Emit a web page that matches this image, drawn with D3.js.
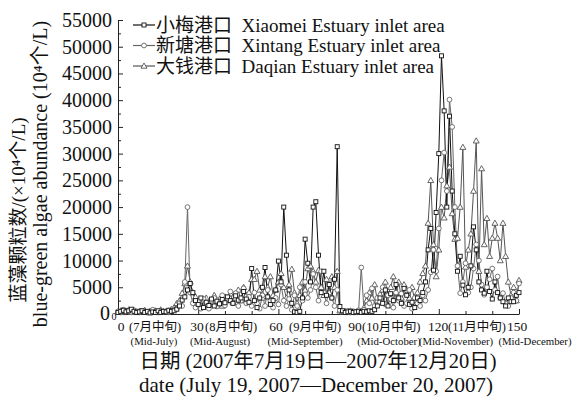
<!DOCTYPE html>
<html><head><meta charset="utf-8">
<script src="https://cdn.jsdelivr.net/npm/d3@7"></script>
<style>
html,body{margin:0;padding:0;background:#fff;}
svg text{font-family:"Liberation Serif","Noto Sans CJK SC",serif;fill:#111;}
</style></head>
<body><svg id="c" width="585" height="403"></svg>
<script>
// ---- data ----
const days = d3.range(0, 151);
const xiaomei = [300,500,700,400,600,900,500,300,400,600,300,500,200,400,300,600,300,500,400,700,500,600,900,
1500,2600,3200,4500,5700,4000,2500,1800,3000,1200,2200,1600,2800,1500,2400,1900,2700,2100,3200,2500,2000,3400,
2600,3000,4200,2800,2200,8500,2500,1200,3000,5000,8700,3200,1800,2500,4500,9900,6000,20000,11000,4500,2000,
400,300,500,3000,14000,9500,6000,20000,21000,11000,4000,8000,3500,5500,3000,6500,31300,1400,600,300,400,500,
300,400,500,300,500,400,600,500,800,1500,3000,2000,4500,1500,3800,2500,5500,3000,2000,4800,3500,1800,2200,
1200,3000,2500,4000,6000,12000,16000,8200,19000,30000,48300,38000,20000,37000,23000,15000,8000,10800,5400,
3600,5000,9000,16300,12000,6000,4500,3900,8000,4200,2800,6000,4000,3000,2300,1500,3000,2300,2300,3500,4000];
const xintang = [500,300,800,600,400,300,700,500,300,600,400,300,500,800,400,300,600,400,500,300,600,800,1000,
2000,1500,6000,20000,4000,2000,1200,2500,1000,2800,1800,1000,2500,3000,1400,2200,3500,1600,2800,4200,2000,3900,
1500,2500,4800,2000,3200,1500,4000,2000,1000,3500,1500,4500,2500,1200,3000,1800,5500,2500,1500,2800,800,
3500,1500,5000,2500,6000,3000,4500,7500,5000,2500,8000,4000,2000,5500,3000,1500,4500,700,500,400,600,300,
500,400,700,8700,800,3500,2000,4800,1500,3000,2200,5000,1800,3500,2800,1200,4000,2500,3800,1500,2000,4500,
1000,3000,2000,1500,3500,2500,4500,7800,12000,8000,16000,25000,30200,23000,40100,35000,20000,9000,3900,6000,
9500,4000,5000,8500,13000,10000,5500,3600,5000,6500,8500,4500,7000,3000,3900,2000,1500,3000,4000,2500,5700];
const daqian = [400,600,300,500,800,400,600,300,500,400,700,300,500,400,600,300,800,500,400,600,900,1200,2000,
2500,3900,5700,9000,6000,4000,3200,2000,1500,2500,3000,1800,2200,3500,2000,2800,1500,3200,2500,3800,2200,3000,
4500,2500,5000,3500,4000,6500,6500,8000,4500,3000,7000,5000,7000,3500,4500,6000,7600,5000,3000,5500,8400,
4000,2000,3500,6000,4500,8500,9000,8000,6000,8200,5000,3500,6500,4000,7000,5000,8000,600,400,500,300,600,
400,300,500,400,1200,2500,4000,3000,5500,2500,3700,4500,6000,3500,5000,7000,4000,6000,3000,5500,4500,3000,
5000,2500,4000,6000,7600,9000,17000,25000,13000,7000,12000,20000,18000,24000,27500,18800,14000,14200,20000,
31200,8800,12000,15000,23000,32400,8000,27200,13000,17900,10800,14200,17000,14200,10000,17000,10800,6000,3500,
5000,2500,6300];
const seriesNames = ["小梅港口  Xiaomei Estuary inlet area","新塘港口  Xintang Estuary inlet area","大钱港口  Daqian Estuary inlet area"];
const yTicks = [0,5000,10000,15000,20000,25000,30000,35000,40000,45000,50000,55000];
const xTicks = [0,30,60,90,120,150];
const xLabelsCN = ["(7月中旬)","(8月中旬)","(9月中旬)","(10月中旬)","(11月中旬)"];
const xLabelsEN = ["(Mid-July)","(Mid-August)","(Mid-September)","(Mid-October)","(Mid-November)","(Mid-December)"];

// ---- chart ----
const svg = d3.select("#c");
const x = d3.scaleLinear().domain([0,150]).range([118,519]);
const y = d3.scaleLinear().domain([0,55000]).range([314,20]);

// axes
const gy = svg.append("g").attr("transform","translate(118,0)");
gy.call(d3.axisLeft(y).tickValues(d3.range(0,55001,2500)).tickSize(-3).tickSizeOuter(0).tickFormat(""));
gy.call(g=>g.selectAll(".tick").filter(d=>d%5000===0).select("line").attr("x2",5));
gy.selectAll("path,line").attr("stroke","#222");
yTicks.forEach(v=>{ if(v===0) return;
  svg.append("text").attr("x",112).attr("y",y(v)).attr("dy","0.35em").attr("text-anchor","end")
    .attr("font-size",20).text(v);
});
svg.append("text").attr("x",110).attr("y",y(0)).attr("dy","0.3em").attr("text-anchor","end").attr("font-size",20).text("0");
svg.append("text").attr("x",114).attr("y",320).attr("text-anchor","middle").attr("font-size",10).text("0");

const gx = svg.append("g").attr("transform","translate(0,314)");
gx.call(d3.axisBottom(x).tickValues(d3.range(0,151,10)).tickSize(-3).tickSizeOuter(0).tickFormat(""));
gx.call(g=>g.selectAll(".tick").filter(d=>d%30===0).select("line").attr("y2",-5));
gx.selectAll("path,line").attr("stroke","#222");

// x labels row 1
const xNumPos = [121,197,276,355,438,517];
xTicks.forEach((t,i)=>{
  svg.append("text").attr("x",xNumPos[i]).attr("y",331).attr("text-anchor","middle").attr("font-size",13.5).text(t);
});
const cnPos = [129,205,289,362,448];
xLabelsCN.forEach((s,i)=>{
  svg.append("text").attr("x",cnPos[i]).attr("y",331).attr("text-anchor","start").attr("font-size",12.5).text(s);
});
const enPos = [154,220,305,389,456,535];
xLabelsEN.forEach((s,i)=>{
  svg.append("text").attr("x",enPos[i]).attr("y",345).attr("text-anchor","middle").attr("font-size",10.8).text(s);
});
svg.append("text").attr("x",318).attr("y",368).attr("text-anchor","middle").attr("font-size",20.5).text("日期 (2007年7月19日—2007年12月20日)");
svg.append("text").attr("x",316).attr("y",392).attr("text-anchor","middle").attr("font-size",21).text("date (July 19, 2007—December 20, 2007)");

// y titles
svg.append("text").attr("transform","translate(18,210) rotate(-90)").attr("text-anchor","middle").attr("dy","0.35em")
  .attr("font-size",19).text("蓝藻颗粒数/(×10⁴个/L)");
svg.append("text").attr("transform","translate(40,174) rotate(-90)").attr("text-anchor","middle").attr("dy","0.35em")
  .attr("font-size",20).text("blue-green algae abundance (10⁴个/L)");

// series
const series = [
  {vals:daqian, color:"#555", shape:"tri"},
  {vals:xintang, color:"#666", shape:"circ"},
  {vals:xiaomei, color:"#111", shape:"sq"}
];
function drawMarker(g, shape, cx, cy, color){
  if(shape==="sq") g.append("rect").attr("x",cx-2).attr("y",cy-2).attr("width",4).attr("height",4)
      .attr("fill","#fff").attr("stroke",color).attr("stroke-width",0.9);
  else if(shape==="circ") g.append("circle").attr("cx",cx).attr("cy",cy).attr("r",2.4)
      .attr("fill","#fff").attr("stroke",color).attr("stroke-width",0.9);
  else g.append("path").attr("d",`M${cx},${cy-3}L${cx+3},${cy+2.2}L${cx-3},${cy+2.2}Z`)
      .attr("fill","#fff").attr("stroke",color).attr("stroke-width",0.9);
}
const line = d3.line().x((d,i)=>x(days[i])).y(d=>y(d));
series.forEach(s=>{
  svg.append("path").attr("d",line(s.vals)).attr("fill","none").attr("stroke",s.color).attr("stroke-width",1);
});
series.forEach(s=>{
  const g = svg.append("g");
  s.vals.forEach((v,i)=>drawMarker(g,s.shape,x(days[i]),y(v),s.color));
});

// legend
const legShapes = ["sq","circ","tri"];
const legColors = ["#111","#666","#555"];
seriesNames.forEach((n,i)=>{
  const cy = 25 + i*20.5;
  svg.append("line").attr("x1",133).attr("x2",155).attr("y1",cy).attr("y2",cy).attr("stroke",legColors[i]).attr("stroke-width",1.2);
  drawMarker(svg, legShapes[i], 144, cy, legColors[i]);
  svg.append("text").attr("x",156).attr("y",cy).attr("dy","0.35em").attr("font-size",19).attr("xml:space","preserve").text(n);
});
</script></body></html>
